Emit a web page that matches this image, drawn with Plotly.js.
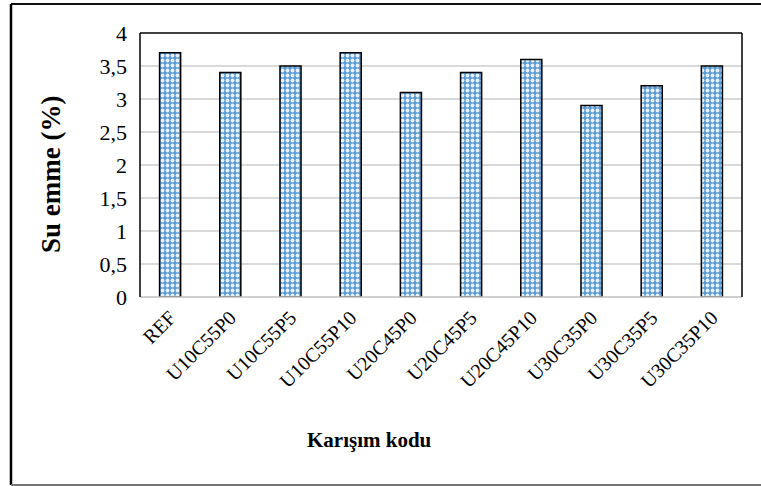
<!DOCTYPE html>
<html>
<head>
<meta charset="utf-8">
<script src="https://cdn.plot.ly/plotly-3.0.1.min.js"></script>
<style>html,body{margin:0;padding:0;background:#fff;}#chart{width:761px;height:486px;}</style>
</head>
<body>
<div id="chart"></div>
<script>
const categories = ["REF","U10C55P0","U10C55P5","U10C55P10","U20C45P0","U20C45P5","U20C45P10","U30C35P0","U30C35P5","U30C35P10"];
const values = [3.7, 3.4, 3.5, 3.7, 3.1, 3.4, 3.6, 2.9, 3.2, 3.5];
const yTickVals = [0, 0.5, 1, 1.5, 2, 2.5, 3, 3.5, 4];
const yTickText = ["0", "0,5", "1", "1,5", "2", "2,5", "3", "3,5", "4"];
const xTitle = "Karışım kodu";
const yTitle = "Su emme (%)";

const font = "Liberation Serif, Times New Roman, serif";

const trace = {
  type: "bar",
  x: categories,
  y: values,
  width: 0.35,
  marker: {
    color: "#5B9BD5",
    line: {color: "#000", width: 1.5},
    pattern: {shape: ".", bgcolor: "#5B9BD5", fgcolor: "#e8f1fb", size: 5, solidity: 0.45}
  },
  hoverinfo: "x+y"
};

const layout = {
  width: 761, height: 486,
  margin: {l: 140, r: 19, t: 33, b: 189, pad: 0},
  paper_bgcolor: "#fff", plot_bgcolor: "#fff",
  showlegend: false,
  separators: ",.",
  font: {family: font, color: "#000"},
  xaxis: {
    type: "category",
    tickangle: -45,
    tickfont: {family: font, size: 20, color: "#000"},
    showline: false, showgrid: false, ticks: "",
    ticklabelstandoff: 4
  },
  yaxis: {
    range: [0, 4],
    tickvals: yTickVals, ticktext: yTickText,
    tickfont: {family: font, size: 22, color: "#000"},
    showgrid: true, gridcolor: "#d9d9d9", gridwidth: 1.5,
    zeroline: false, showline: false, ticks: "",
    ticklabelstandoff: 12
  },
  annotations: [
    {xref: "paper", yref: "paper", x: -0.1478, y: 0.462, xanchor: "center", yanchor: "middle",
     text: "<b>" + yTitle + "</b>", textangle: -90, showarrow: false,
     font: {family: font, size: 27, color: "#000"}},
    {xref: "paper", yref: "paper", x: 0.382, y: -0.542, xanchor: "center", yanchor: "middle",
     text: "<b>" + xTitle + "</b>", showarrow: false,
     font: {family: font, size: 21, color: "#000"}}
  ],
  shapes: [
    // plot area frame
    {type: "line", xref: "paper", yref: "paper", x0: 0, x1: 1, y0: 0, y1: 0, line: {color: "#bfbfbf", width: 1.5}},
    {type: "line", xref: "paper", yref: "paper", x0: 0, x1: 1, y0: 1, y1: 1, line: {color: "#000", width: 1.5}},
    {type: "line", xref: "paper", yref: "paper", x0: 0, x1: 0, y0: 0, y1: 1, line: {color: "#000", width: 1.5}},
    {type: "line", xref: "paper", yref: "paper", x0: 1, x1: 1, y0: 0, y1: 1, line: {color: "#000", width: 1.5}},
    // outer frame
    {type: "line", xref: "paper", yref: "paper", x0: -0.2143, x1: 1.05, y0: 1.1098, y1: 1.1098, line: {color: "#111", width: 2}},
    {type: "line", xref: "paper", yref: "paper", x0: -0.2143, x1: -0.2143, y0: 1.1098, y1: -0.712, line: {color: "#000", width: 2.5}},
    {type: "line", xref: "paper", yref: "paper", x0: -0.2143, x1: 1.05, y0: -0.712, y1: -0.712, line: {color: "#777", width: 2}}
  ]
};

Plotly.newPlot("chart", [trace], layout, {displayModeBar: false, staticPlot: true});
</script>
</body>
</html>
